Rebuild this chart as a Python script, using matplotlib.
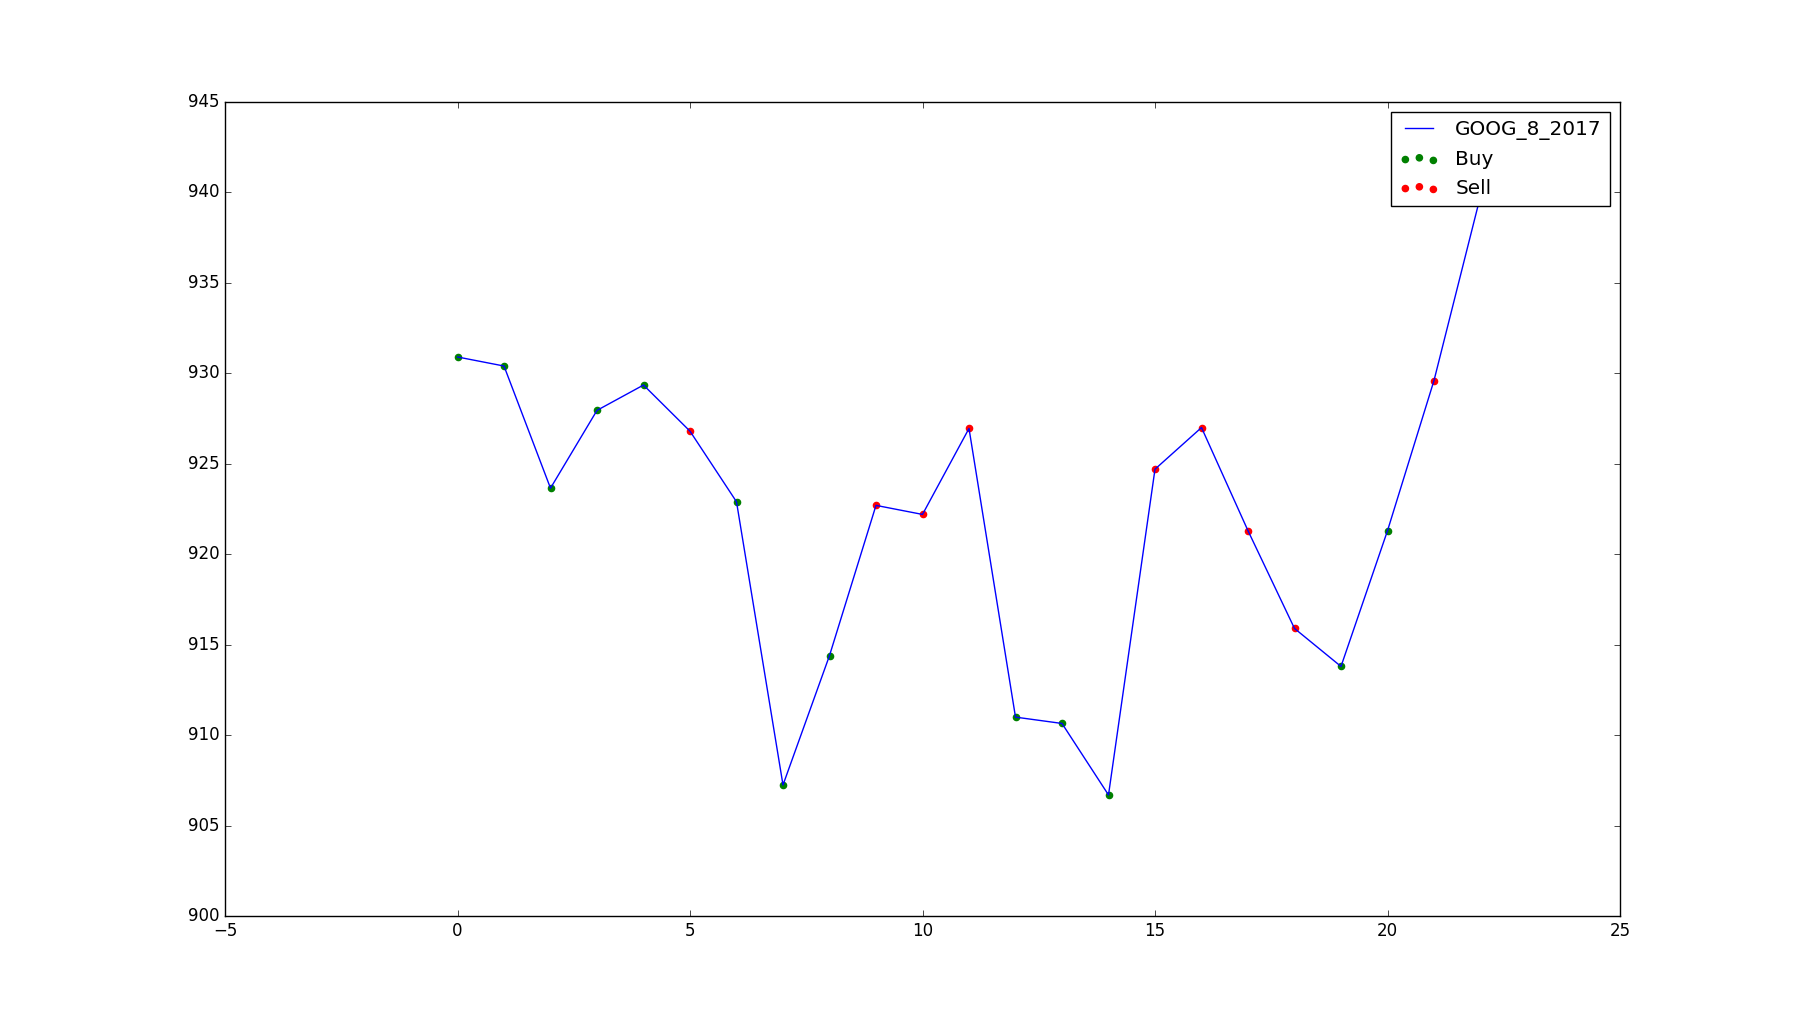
import numpy as np
import matplotlib
matplotlib.use('Agg')
import matplotlib.pyplot as plt

plt.style.use('classic')

# closing prices
days = list(range(23))
prices = [930.9, 930.4, 923.65, 927.95, 929.35, 926.8, 922.9, 907.25, 914.4,
          922.7, 922.2, 926.95, 911.0, 910.65, 906.7, 924.7, 927.0, 921.3,
          915.9, 913.8, 921.3, 929.6, 939.8]
# signal taken on each day
signals = ['buy', 'buy', 'buy', 'buy', 'buy', 'sell', 'buy', 'buy', 'buy',
           'sell', 'sell', 'sell', 'buy', 'buy', 'buy', 'sell', 'sell', 'sell',
           'sell', 'buy', 'buy', 'sell', 'sell']

buy_x = [d for d, s in zip(days, signals) if s == 'buy']
buy_y = [p for p, s in zip(prices, signals) if s == 'buy']
sell_x = [d for d, s in zip(days, signals) if s == 'sell']
sell_y = [p for p, s in zip(prices, signals) if s == 'sell']

fig = plt.figure(figsize=(18, 10.18), facecolor='white')
ax = fig.add_subplot(111)

ax.plot(days, prices, color='b', label='GOOG_8_2017')
ax.scatter(buy_x, buy_y, color='g', label='Buy')
ax.scatter(sell_x, sell_y, color='r', label='Sell')

ax.set_xlim(-5, 25)
ax.set_ylim(900, 945)
ax.legend(loc='upper right')

fig.savefig('out.png', dpi=100, facecolor='white')
